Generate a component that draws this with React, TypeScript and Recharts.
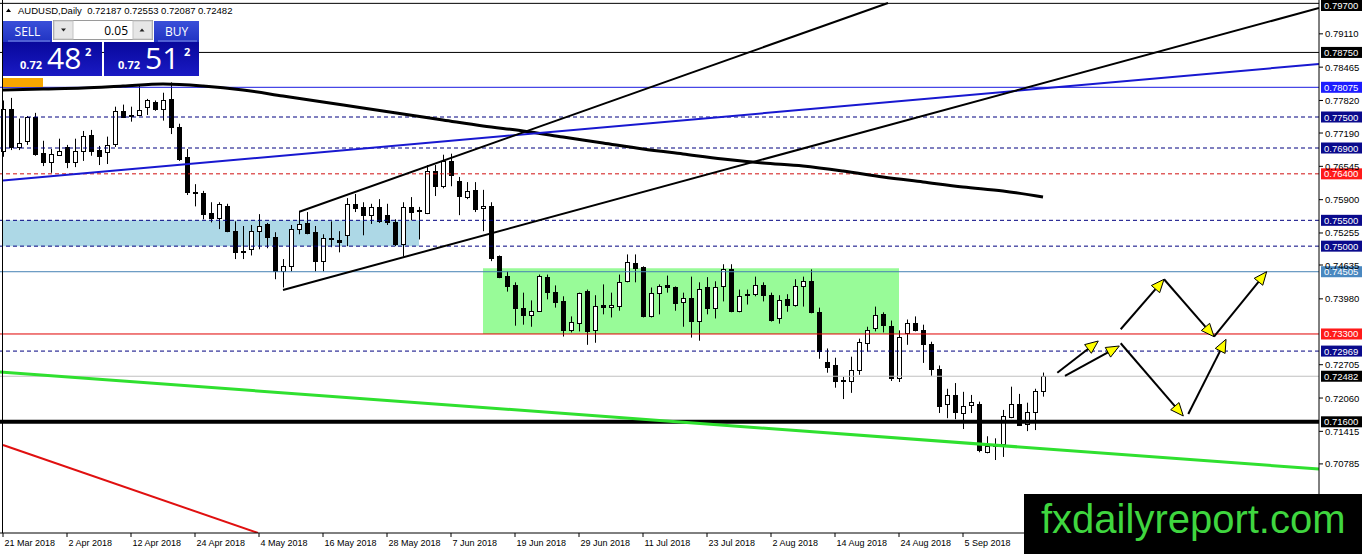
import React from 'react';
import {
  ComposedChart,
  Bar,
  Line,
  XAxis,
  YAxis,
  ReferenceLine,
  ReferenceArea,
} from 'recharts';

// trading days shown on the chart
const MAR = [21, 22, 23, 26, 27, 28, 29, 30];
const APR = [2, 3, 4, 5, 6, 9, 10, 11, 12, 13, 16, 17, 18, 19, 20, 23, 24, 25, 26, 27, 30];
const MAY = [1, 2, 3, 4, 7, 8, 9, 10, 11, 14, 15, 16, 17, 18, 21, 22, 23, 24, 25, 28, 29, 30, 31];
const JUN = [1, 4, 5, 6, 7, 8, 11, 12, 13, 14, 15, 18, 19, 20, 21, 22, 25, 26, 27, 28, 29];
const JUL = [2, 3, 4, 5, 6, 9, 10, 11, 12, 13, 16, 17, 18, 19, 20, 23, 24, 25, 26, 27, 30, 31];
const AUG = [1, 2, 3, 6, 7, 8, 9, 10, 13, 14, 15, 16, 17, 20, 21, 22, 23, 24, 27, 28, 29, 30, 31];
const SEP = [3, 4, 5, 6, 7, 10, 11, 12, 13, 14, 17, 18, 19];

const OPEN = [
  0.7684, 0.7766, 0.7692, 0.7704, 0.775, 0.7681, 0.7663, 0.7677, 0.7692, 0.7663,
  0.7684, 0.7716, 0.7686, 0.7682, 0.7698, 0.7762, 0.7754, 0.7754, 0.777, 0.778,
  0.7766, 0.7785, 0.7731, 0.7673, 0.7605, 0.7603, 0.7564, 0.7554, 0.7578, 0.7529,
  0.749, 0.7494, 0.7529, 0.7543, 0.7517, 0.7451, 0.7461, 0.7533, 0.7545, 0.7527,
  0.7471, 0.7513, 0.7511, 0.7521, 0.7582, 0.7576, 0.756, 0.7576, 0.756, 0.7546,
  0.7504, 0.7576, 0.757, 0.7564, 0.7645, 0.7616, 0.7665, 0.7626, 0.7595, 0.7609,
  0.7574, 0.7578, 0.748, 0.7443, 0.7424, 0.7381, 0.7366, 0.7375, 0.7441, 0.7412,
  0.7393, 0.7338, 0.7352, 0.7414, 0.7338, 0.7387, 0.7383, 0.7385, 0.7432, 0.7467,
  0.7459, 0.7364, 0.7409, 0.7424, 0.742, 0.7391, 0.7399, 0.7356, 0.742, 0.7381,
  0.7422, 0.7455, 0.7375, 0.7405, 0.7407, 0.7424, 0.7405, 0.736, 0.7397, 0.7387,
  0.7422, 0.7432, 0.7372, 0.7276, 0.7269, 0.7241, 0.7239, 0.7261, 0.7313, 0.7342,
  0.7368, 0.7346, 0.7245, 0.7331, 0.7352, 0.7338, 0.7311, 0.7263, 0.7195, 0.7212,
  0.7177, 0.7193, 0.7195, 0.7101, 0.7113, 0.7117, 0.7169, 0.7195, 0.7156, 0.7179,
  0.72187,
];
const HIGH = [
  0.7782, 0.7787, 0.7747, 0.7752, 0.7758, 0.7704, 0.7688, 0.7708, 0.7696, 0.7708,
  0.7723, 0.7725, 0.7694, 0.7712, 0.777, 0.7774, 0.777, 0.7811, 0.7785, 0.7782,
  0.7797, 0.7817, 0.7737, 0.7688, 0.762, 0.7607, 0.7585, 0.7585, 0.7582, 0.7548,
  0.7539, 0.7541, 0.7562, 0.7545, 0.7527, 0.7475, 0.7541, 0.7568, 0.7566, 0.7539,
  0.7523, 0.7548, 0.7529, 0.7593, 0.7601, 0.7585, 0.7582, 0.7591, 0.7582, 0.7552,
  0.7585, 0.7595, 0.7576, 0.7657, 0.7657, 0.7677, 0.7679, 0.7634, 0.7624, 0.7624,
  0.7609, 0.7585, 0.7482, 0.7451, 0.743, 0.741, 0.7395, 0.7445, 0.7445, 0.7424,
  0.7403, 0.7364, 0.741, 0.7416, 0.7405, 0.7426, 0.741, 0.7445, 0.7484, 0.7484,
  0.7461, 0.742, 0.7426, 0.7443, 0.7422, 0.741, 0.7441, 0.743, 0.744, 0.7432,
  0.7465, 0.7465, 0.7416, 0.7416, 0.7441, 0.743, 0.741, 0.7405, 0.7407, 0.7436,
  0.7441, 0.7455, 0.7381, 0.7302, 0.7284, 0.7247, 0.7286, 0.7321, 0.7344, 0.7383,
  0.7372, 0.7356, 0.7337, 0.7358, 0.7364, 0.7348, 0.7315, 0.7269, 0.7224, 0.7235,
  0.7218, 0.7212, 0.7199, 0.7132, 0.7128, 0.7183, 0.7228, 0.7214, 0.7197, 0.7224,
  0.72553,
];
const LOW = [
  0.7673, 0.7686, 0.7686, 0.7696, 0.7675, 0.7655, 0.7642, 0.7675, 0.7651, 0.7653,
  0.7665, 0.7675, 0.7657, 0.7659, 0.7692, 0.7748, 0.7741, 0.7752, 0.7754, 0.7762,
  0.7743, 0.7717, 0.7665, 0.7599, 0.7577, 0.7552, 0.7546, 0.7533, 0.7527, 0.7475,
  0.7475, 0.7482, 0.7494, 0.7496, 0.7436, 0.742, 0.7451, 0.7523, 0.7523, 0.7451,
  0.7451, 0.7498, 0.7488, 0.75, 0.7566, 0.7521, 0.7543, 0.7545, 0.7541, 0.75,
  0.748, 0.755, 0.7513, 0.7562, 0.7597, 0.7612, 0.7616, 0.756, 0.7591, 0.7566,
  0.7529, 0.7471, 0.7438, 0.7412, 0.7346, 0.7348, 0.7344, 0.7373, 0.7397, 0.7381,
  0.7325, 0.7333, 0.7335, 0.7309, 0.7313, 0.7368, 0.7362, 0.7375, 0.743, 0.743,
  0.7362, 0.7362, 0.7368, 0.741, 0.7375, 0.7344, 0.7323, 0.7317, 0.7368, 0.736,
  0.7393, 0.7372, 0.7372, 0.7387, 0.7403, 0.7393, 0.7354, 0.735, 0.7373, 0.7383,
  0.7383, 0.737, 0.7282, 0.7255, 0.7226, 0.7204, 0.7216, 0.7251, 0.7296, 0.7335,
  0.7333, 0.7239, 0.7237, 0.7309, 0.7335, 0.7274, 0.7249, 0.7177, 0.7167, 0.7165,
  0.7146, 0.7177, 0.7101, 0.7099, 0.7086, 0.7092, 0.7167, 0.7152, 0.7142, 0.7144,
  0.72087,
];
const CLOSE = [
  0.7766, 0.7692, 0.77, 0.775, 0.7679, 0.7663, 0.7679, 0.7684, 0.7663, 0.7684,
  0.7714, 0.7684, 0.7675, 0.7696, 0.7762, 0.775, 0.7752, 0.7764, 0.7782, 0.7766,
  0.7782, 0.7731, 0.7669, 0.7605, 0.7603, 0.7562, 0.7554, 0.7582, 0.7529, 0.7488,
  0.7488, 0.7529, 0.7539, 0.7517, 0.7451, 0.7461, 0.7533, 0.7543, 0.7525, 0.7471,
  0.7515, 0.7515, 0.7509, 0.7582, 0.7574, 0.756, 0.7576, 0.7548, 0.7546, 0.7504,
  0.7576, 0.7566, 0.7568, 0.7645, 0.7616, 0.7665, 0.7638, 0.7597, 0.7607, 0.7572,
  0.7578, 0.7477, 0.744, 0.7422, 0.7381, 0.7366, 0.7375, 0.7443, 0.7412, 0.7391,
  0.7338, 0.7354, 0.7409, 0.7336, 0.7385, 0.7383, 0.7387, 0.743, 0.7469, 0.7457,
  0.7364, 0.7409, 0.7422, 0.742, 0.7389, 0.7399, 0.7356, 0.7418, 0.7381, 0.742,
  0.7455, 0.7375, 0.7403, 0.7407, 0.7424, 0.7405, 0.7358, 0.7395, 0.7387, 0.7422,
  0.7432, 0.7372, 0.7298, 0.7267, 0.7239, 0.7239, 0.7261, 0.7315, 0.7338, 0.7366,
  0.7348, 0.7245, 0.7325, 0.7352, 0.7337, 0.7311, 0.7263, 0.7191, 0.7212, 0.7179,
  0.7191, 0.7199, 0.7105, 0.7113, 0.7117, 0.7171, 0.7195, 0.7154, 0.7179, 0.722,
  0.72482,
];

// moving average read at sampled bars: [bar index, price]
const MA_POINTS: [number, number][] = [
  [0, 0.78023], [5, 0.78042], [10, 0.78061], [15, 0.781], [20, 0.78139],
  [25, 0.781], [30, 0.78023], [35, 0.77907], [40, 0.77791], [45, 0.77674],
  [50, 0.77558], [55, 0.77442], [60, 0.77326], [65, 0.77229], [70, 0.77113],
  [75, 0.76997], [80, 0.76881], [85, 0.76784], [90, 0.76687], [95, 0.7661],
  [100, 0.76552], [105, 0.76455], [110, 0.76339], [115, 0.76242], [120, 0.76145],
  [125, 0.76068], [130, 0.75952],
];

const X_TICKS = [0, 8, 16, 24, 32, 40, 48, 56, 64, 72, 80, 88, 96, 104, 112, 120];
const X_LABELS = [
  '21 Mar 2018', '2 Apr 2018', '12 Apr 2018', '24 Apr 2018', '4 May 2018',
  '16 May 2018', '28 May 2018', '7 Jun 2018', '19 Jun 2018', '29 Jun 2018',
  '11 Jul 2018', '23 Jul 2018', '2 Aug 2018', '14 Aug 2018', '24 Aug 2018',
  '5 Sep 2018',
];
const Y_TICKS = [
  0.7911, 0.78465, 0.7782, 0.7719, 0.76545, 0.759, 0.75255, 0.74635, 0.7398,
  0.72705, 0.7206, 0.71415, 0.70785, 0.7014,
];

// horizontal levels drawn on the chart
const LEVELS = [
  0.797, 0.7875, 0.78075, 0.775, 0.769, 0.764, 0.755, 0.75, 0.74505, 0.733,
  0.72969, 0.72482, 0.716,
];
const LEVEL_STYLE = [
  { line: '#000', width: 1, dash: undefined, bg: '#000' },
  { line: '#000', width: 1, dash: undefined, bg: '#000' },
  { line: '#1a1ae0', width: 1, dash: undefined, bg: '#1c1cff' },
  { line: '#000080', width: 1, dash: '4 3', bg: '#0a0a8c' },
  { line: '#000080', width: 1, dash: '4 3', bg: '#0a0a8c' },
  { line: '#d01010', width: 1, dash: '4 3', bg: '#ff1a1a' },
  { line: '#000080', width: 1, dash: '4 3', bg: '#0a0a8c' },
  { line: '#000080', width: 1, dash: '4 3', bg: '#0a0a8c' },
  { line: '#4682b4', width: 1, dash: undefined, bg: '#4a88c0' },
  { line: '#e00000', width: 1, dash: undefined, bg: '#ff1a1a' },
  { line: '#000080', width: 1, dash: '4 3', bg: '#0a0a8c' },
  { line: '#c0c0c0', width: 1, dash: undefined, bg: '#000' },
  { line: '#000', width: 4, dash: undefined, bg: '#000' },
];

// trend lines: [[bar, price], [bar, price]]
const BLUE_TREND = [[0, 0.76271], [164.5, 0.78526]];
const CHANNEL_UP = [[37.04, 0.75667], [110.63, 0.79707]];
const CHANNEL_LOW = [[35, 0.74151], [164.5, 0.7961]];
const RED_TREND = [[0, 0.71151], [31.875, 0.69448]];
const GREEN_TREND = [[-0.375, 0.72564], [164.5, 0.70686]];

// projected path arrows
const ARROWS = [
  [[131.79, 0.72551], [136.91, 0.73164]],
  [[132.75, 0.72487], [139.54, 0.73067]],
  [[139.71, 0.73391], [145.13, 0.74359]],
  [[145.13, 0.74359], [151.38, 0.73247]],
  [[151.38, 0.73247], [157.96, 0.74506]],
  [[139.71, 0.7312], [147.54, 0.71712]],
  [[148.16, 0.71751], [152.88, 0.73197]],
];

const MONTHS: [string, number[]][] = [
  ['03', MAR], ['04', APR], ['05', MAY], ['06', JUN], ['07', JUL], ['08', AUG], ['09', SEP],
];
const DATES = MONTHS.flatMap(([m, days]) =>
  days.map((d) => `2018-${m}-${String(d).padStart(2, '0')}`)
);

const maByIndex = new Map(MA_POINTS);
const rows = OPEN.map((o, i) => ({
  i,
  date: DATES[i],
  o,
  h: HIGH[i],
  l: LOW[i],
  c: CLOSE[i],
  range: [LOW[i], HIGH[i]],
  ma: maByIndex.has(i) ? maByIndex.get(i) : null,
}));

const FONT = "'Liberation Sans', Arial, sans-serif";

const Candle = (props: any) => {
  const { x, y, width, height, payload } = props;
  const { o, h, l, c } = payload;
  const top = Math.min(y, y + height);
  const span = Math.abs(height);
  const k = h === l ? 0 : span / (h - l);
  const cx = Math.round(x + width / 2) + 0.5;
  const yO = top + (h - o) * k;
  const yC = top + (h - c) * k;
  const bTop = Math.round(Math.min(yO, yC)) + 0.5;
  const bBot = Math.round(Math.max(yO, yC)) + 0.5;
  const up = c >= o;
  return (
    <g>
      <line x1={cx} x2={cx} y1={top} y2={top + span} stroke="#000" strokeWidth={1} />
      {bBot - bTop < 1 ? (
        <line x1={cx - 2.5} x2={cx + 2.5} y1={bTop} y2={bTop} stroke="#000" strokeWidth={1} />
      ) : (
        <rect
          x={cx - 2}
          y={bTop}
          width={4}
          height={bBot - bTop}
          fill={up ? '#fff' : '#000'}
          stroke="#000"
          strokeWidth={1}
        />
      )}
    </g>
  );
};

const ArrowShape = (props: any) => {
  const x1 = Number(props.x1);
  const y1 = Number(props.y1);
  const x2 = Number(props.x2);
  const y2 = Number(props.y2);
  const len = Math.hypot(x2 - x1, y2 - y1) || 1;
  const ux = (x2 - x1) / len;
  const uy = (y2 - y1) / len;
  const bx = x2 - ux * 13;
  const by = y2 - uy * 13;
  const nx = -uy * 5.5;
  const ny = ux * 5.5;
  return (
    <g>
      <line x1={x1} y1={y1} x2={bx} y2={by} stroke="#000" strokeWidth={2} />
      <polygon
        points={`${x2},${y2} ${bx + nx},${by + ny} ${bx - nx},${by - ny}`}
        fill="#ffff00"
        stroke="#000"
        strokeWidth={1}
      />
    </g>
  );
};

// price tag on the right axis, kept inside the top edge like the terminal does
const levelLabel = (text: string, bg: string) => (props: any) => {
  const vb = props.viewBox;
  const lx = vb.x + vb.width + 2;
  const boxTop = Math.max(vb.y - 5.5, 0);
  return (
    <g>
      <rect x={lx} y={boxTop} width={42} height={11} fill={bg} />
      <text x={lx + 3} y={boxTop + 9} fill="#fff" fontSize={9.5} fontFamily={FONT}>
        {text}
      </text>
    </g>
  );
};

const DateTick = (props: any) => {
  const { x, y, payload } = props;
  const idx = X_TICKS.indexOf(payload.value);
  return (
    <text x={x + 1.5} y={y + 7} fontSize={9} fontFamily={FONT} fill="#000">
      {X_LABELS[idx]}
    </text>
  );
};

const PriceTick = (props: any) => {
  const { x, y, payload } = props;
  return (
    <text x={x} y={y + 3.5} fontSize={9.5} fontFamily={FONT} fill="#000">
      {Number(payload.value).toFixed(5)}
    </text>
  );
};

const seg = (p: number[][]) => [
  { x: p[0][0], y: p[0][1] },
  { x: p[1][0], y: p[1][1] },
];

const TradePanel = () => (
  <svg width={240} height={90} style={{ position: 'absolute', left: 0, top: 0 }}>
    <defs>
      <linearGradient id="btn" x1="0" y1="0" x2="0" y2="1">
        <stop offset="0" stopColor="#3a4fd9" />
        <stop offset="1" stopColor="#2033c2" />
      </linearGradient>
      <linearGradient id="box" x1="0" y1="0" x2="0" y2="1">
        <stop offset="0" stopColor="#08089c" />
        <stop offset="1" stopColor="#1a1ac4" />
      </linearGradient>
    </defs>
    <polygon points="6,12 11,12 8.5,8.5" fill="#000" />
    <text x={18} y={14} fontSize={9.5} fontFamily={FONT} fill="#000" style={{ whiteSpace: 'pre' }}>
      {'AUDUSD,Daily  0.72187 0.72553 0.72087 0.72482'}
    </text>
    <rect x={3} y={21} width={49} height={21} fill="url(#btn)" />
    <line x1={8} x2={50} y1={41} y2={41} stroke="#7f8ce6" strokeWidth={1} />
    <text x={27.5} y={36} textAnchor="middle" fontSize={12} fill="#fff" fontFamily="'Open Sans', sans-serif">
      SELL
    </text>
    <rect x={53.5} y={20.5} width={99} height={19} fill="#fff" stroke="#9a9a9a" />
    <rect x={54} y={21} width={19} height={18} fill="#e6e6e6" stroke="#c4c4c4" />
    <polygon points="61,28.5 66,28.5 63.5,31.5" fill="#222" />
    <rect x={133} y={21} width={19} height={18} fill="#e6e6e6" stroke="#c4c4c4" />
    <polygon points="139.5,31.5 144.5,31.5 142,28.5" fill="#222" />
    <text x={128} y={34.5} textAnchor="end" fontSize={12} fill="#000" fontFamily="'Open Sans', sans-serif">
      0.05
    </text>
    <rect x={154} y={21} width={45} height={21} fill="url(#btn)" />
    <line x1={158} x2={197} y1={41} y2={41} stroke="#7f8ce6" strokeWidth={1} />
    <text x={176.5} y={36} textAnchor="middle" fontSize={12} fill="#fff" fontFamily="'Open Sans', sans-serif">
      BUY
    </text>
    <rect x={3} y={42} width={99} height={34} fill="url(#box)" />
    <text x={20} y={69} fontSize={11} fontWeight={700} fill="#fff" fontFamily="'Open Sans', sans-serif">
      0.72
    </text>
    <text x={47} y={69} fontSize={30} fill="#fff" fontFamily="'Open Sans', sans-serif">
      48
    </text>
    <text x={85} y={56} fontSize={11} fontWeight={700} fill="#fff" fontFamily="'Open Sans', sans-serif">
      2
    </text>
    <rect x={104} y={42} width={95} height={34} fill="url(#box)" />
    <text x={118} y={69} fontSize={11} fontWeight={700} fill="#fff" fontFamily="'Open Sans', sans-serif">
      0.72
    </text>
    <text x={145} y={69} fontSize={30} fill="#fff" fontFamily="'Open Sans', sans-serif">
      51
    </text>
    <text x={184} y={56} fontSize={11} fontWeight={700} fill="#fff" fontFamily="'Open Sans', sans-serif">
      2
    </text>
    <rect x={3} y={78} width={40} height={9} fill="#f7a600" />
  </svg>
);

const Watermark = () => (
  <svg width={338} height={60} style={{ position: 'absolute', left: 1024, top: 494 }}>
    <rect x={0} y={0} width={338} height={60} fill="#000" />
    <text x={17} y={39} fontSize={40} fontFamily={FONT} fill="#3fd63f">
      fxdailyreport.com
    </text>
  </svg>
);

export default function App() {
  return (
    <div style={{ position: 'relative', width: 1362, height: 554, background: '#fff' }}>
      <style>{'body{margin:0}'}</style>
      <ComposedChart
        width={1362}
        height={554}
        data={rows}
        margin={{ top: 0, right: 0, bottom: 0, left: 0 }}
      >
        <XAxis
          dataKey="i"
          type="number"
          domain={[-0.375, 164.5]}
          allowDataOverflow
          ticks={X_TICKS}
          interval={0}
          height={21}
          tickSize={4}
          tickMargin={2}
          tick={DateTick}
          tickLine={{ stroke: '#000' }}
          axisLine={{ stroke: '#000' }}
        />
        <YAxis
          orientation="right"
          type="number"
          domain={[0.694475, 0.797649]}
          allowDataOverflow
          ticks={Y_TICKS}
          interval={0}
          width={43}
          tickSize={4}
          tickMargin={2}
          tick={PriceTick}
          tickLine={{ stroke: '#000' }}
          axisLine={{ stroke: '#000' }}
        />
        <ReferenceArea
          x1={0}
          x2={52}
          y1={0.75}
          y2={0.755}
          fill="#add8e6"
          fillOpacity={1}
          stroke="none"
          ifOverflow="hidden"
        />
        <ReferenceArea
          x1={60}
          x2={112}
          y1={0.733}
          y2={0.7457}
          fill="#98fb98"
          fillOpacity={1}
          stroke="none"
          ifOverflow="hidden"
        />
        {LEVELS.map((v, k) => (
          <ReferenceLine
            key={`lv-${k}`}
            y={v}
            stroke={LEVEL_STYLE[k].line}
            strokeWidth={LEVEL_STYLE[k].width}
            strokeDasharray={LEVEL_STYLE[k].dash}
            label={levelLabel(v.toFixed(5), LEVEL_STYLE[k].bg)}
          />
        ))}
        <Bar dataKey="range" barSize={5} shape={Candle} isAnimationActive={false} />
        <Line
          dataKey="ma"
          type="monotone"
          stroke="#000"
          strokeWidth={3}
          dot={false}
          activeDot={false}
          connectNulls
          isAnimationActive={false}
        />
        <ReferenceLine segment={seg(BLUE_TREND)} stroke="#1818d0" strokeWidth={2} ifOverflow="hidden" />
        <ReferenceLine segment={seg(CHANNEL_UP)} stroke="#000" strokeWidth={2} ifOverflow="hidden" />
        <ReferenceLine segment={seg(CHANNEL_LOW)} stroke="#000" strokeWidth={2} ifOverflow="hidden" />
        <ReferenceLine segment={seg(RED_TREND)} stroke="#e01010" strokeWidth={2} ifOverflow="hidden" />
        <ReferenceLine segment={seg(GREEN_TREND)} stroke="#2fe02f" strokeWidth={3} ifOverflow="hidden" />
        {ARROWS.map((a, k) => (
          <ReferenceLine key={`ar-${k}`} segment={seg(a)} shape={ArrowShape} ifOverflow="visible" />
        ))}
      </ComposedChart>
      <div style={{ position: 'absolute', left: 2, top: 0, width: 1, height: 533, background: '#000' }} />
      <TradePanel />
      <Watermark />
    </div>
  );
}
